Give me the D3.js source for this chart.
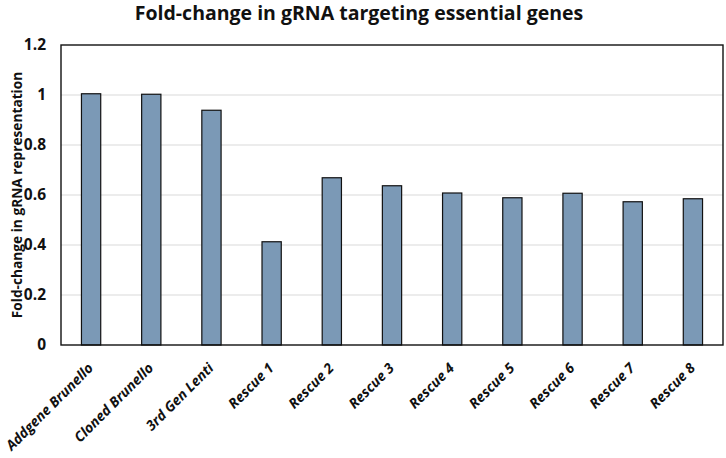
<!DOCTYPE html>
<html>
<head>
<meta charset="utf-8">
<script src="https://cdn.jsdelivr.net/npm/d3@7"></script>
<style>
  body { margin: 0; background: #fff; }
  text { font-family: "Open Sans", Lato, sans-serif; }
</style>
</head>
<body>
<svg id="svg"></svg>
<script>
const categories = ["Addgene Brunello", "Cloned Brunello", "3rd Gen Lenti", "Rescue 1", "Rescue 2",
                    "Rescue 3", "Rescue 4", "Rescue 5", "Rescue 6", "Rescue 7", "Rescue 8"];
const foldChange = [1.005, 1.003, 0.939, 0.413, 0.669, 0.637, 0.608, 0.589, 0.607, 0.573, 0.585];
const yTicks = [0, 0.2, 0.4, 0.6, 0.8, 1, 1.2];

let layout = {"width": 726,
              "height": 458,
              "marginTop": 45,
              "marginRight": 3,
              "marginBottom": 113,
              "marginLeft": 61};

let svgElement = d3.select("#svg")
                   .attr("width", layout.width)
                   .attr("height", layout.height);

let xScale = d3.scaleBand()
               .domain(categories)
               .range([layout.marginLeft, layout.width - layout.marginRight])
               .paddingInner(0.68)
               .paddingOuter(0.34);

let yScale = d3.scaleLinear()
               .domain([0, 1.2])
               .range([layout.height - layout.marginBottom, layout.marginTop]);

// gridlines
svgElement.append("g")
          .selectAll("line")
          .data(yTicks.slice(1, -1))
          .join("line")
          .attr("x1", layout.marginLeft)
          .attr("x2", layout.width - layout.marginRight)
          .attr("y1", d => yScale(d))
          .attr("y2", d => yScale(d))
          .attr("stroke", "#d9d9d9")
          .attr("stroke-width", 1.2);

svgElement.append("g")
          .selectAll("rect")
          .data(foldChange)
          .join("rect")
          .attr("x", (d, i) => xScale(categories[i]))
          .attr("y", d => yScale(d))
          .attr("width", xScale.bandwidth())
          .attr("height", d => yScale(0) - yScale(d))
          .attr("fill", "#7b99b6")
          .attr("stroke", "#111")
          .attr("stroke-width", 1.2);

// plot frame
svgElement.append("rect")
          .attr("x", layout.marginLeft)
          .attr("y", layout.marginTop)
          .attr("width", layout.width - layout.marginRight - layout.marginLeft)
          .attr("height", yScale(0) - layout.marginTop)
          .attr("fill", "none")
          .attr("stroke", "#111")
          .attr("stroke-width", 1.4);

let yAxis = svgElement.append("g")
          .attr("transform", `translate(${layout.marginLeft}, 0)`)
          .call(d3.axisLeft(yScale).tickValues(yTicks).tickFormat(d3.format("~g")).tickSize(0).tickPadding(15));
yAxis.select(".domain").remove();
yAxis.selectAll("text")
     .attr("font-size", 15.5)
     .attr("font-weight", "bold")
     .attr("fill", "#111")
     .style("font-family", "'Open Sans', sans-serif");

let xAxis = svgElement.append("g")
          .attr("transform", `translate(0, ${yScale(0)})`)
          .call(d3.axisBottom(xScale).tickSize(0).tickPadding(0));
xAxis.select(".domain").remove();
xAxis.selectAll("text")
     .attr("font-size", 14)
     .attr("font-weight", "bold")
     .attr("font-style", "italic")
     .attr("fill", "#111")
     .attr("text-anchor", "end")
     .attr("dy", 0)
     .attr("transform", "translate(3, 24) rotate(-45)")
     .style("font-family", "'Open Sans', sans-serif");

svgElement.append("text")
          .attr("x", 359)
          .attr("y", 20)
          .attr("text-anchor", "middle")
          .attr("font-size", 19.5)
          .attr("font-weight", "bold")
          .attr("fill", "#111")
          .text("Fold-change in gRNA targeting essential genes");

svgElement.append("text")
          .attr("text-anchor", "middle")
          .attr("transform", `translate(22, ${(layout.marginTop + yScale(0)) / 2}) rotate(-90)`)
          .attr("font-size", 13.7)
          .attr("font-weight", "bold")
          .attr("fill", "#111")
          .text("Fold-change in gRNA representation");
</script>
</body>
</html>
